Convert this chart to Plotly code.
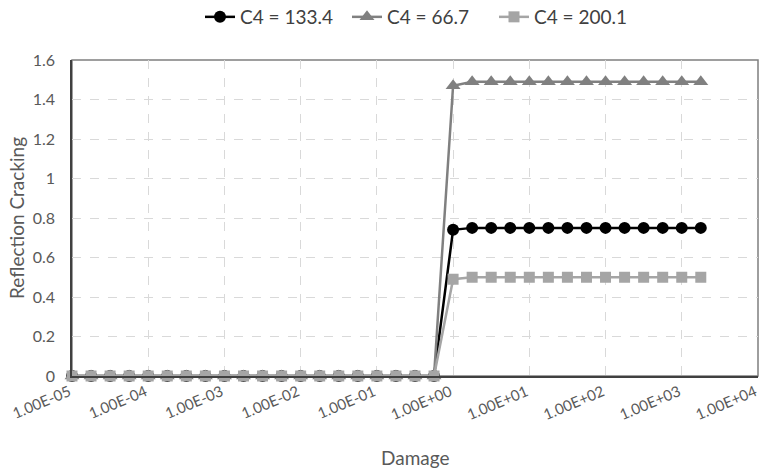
import plotly.graph_objects as go

damage = [1.00e-05, 1.778e-05, 3.162e-05, 5.623e-05,
          1.00e-04, 1.778e-04, 3.162e-04, 5.623e-04,
          1.00e-03, 1.778e-03, 3.162e-03, 5.623e-03,
          1.00e-02, 1.778e-02, 3.162e-02, 5.623e-02,
          1.00e-01, 1.778e-01, 3.162e-01, 5.623e-01,
          1.00, 1.778, 3.162, 5.623,
          10.0, 17.78, 31.62, 56.23,
          100.0, 177.8, 316.2, 562.3,
          1000.0, 1778.0]

c4_133 = [0, 0, 0, 0, 0, 0, 0, 0, 0, 0, 0, 0, 0, 0, 0, 0, 0, 0, 0, 0,
          0.74, 0.75, 0.75, 0.75, 0.75, 0.75, 0.75, 0.75, 0.75, 0.75, 0.75, 0.75, 0.75, 0.75]
c4_66 = [0, 0, 0, 0, 0, 0, 0, 0, 0, 0, 0, 0, 0, 0, 0, 0, 0, 0, 0, 0,
         1.47, 1.49, 1.49, 1.49, 1.49, 1.49, 1.49, 1.49, 1.49, 1.49, 1.49, 1.49, 1.49, 1.49]
c4_200 = [0, 0, 0, 0, 0, 0, 0, 0, 0, 0, 0, 0, 0, 0, 0, 0, 0, 0, 0, 0,
          0.49, 0.50, 0.50, 0.50, 0.50, 0.50, 0.50, 0.50, 0.50, 0.50, 0.50, 0.50, 0.50, 0.50]

x_tickvals = [1e-5, 1e-4, 1e-3, 1e-2, 1e-1, 1e0, 1e1, 1e2, 1e3, 1e4]
x_ticktext = ["1.00E-05", "1.00E-04", "1.00E-03", "1.00E-02", "1.00E-01",
              "1.00E+00", "1.00E+01", "1.00E+02", "1.00E+03", "1.00E+04"]

FONT = "Lato"
TXT = "#595959"

W, H = 762, 476
L, T, R, B = 72, 60, 4, 100
PW, PH = W - L - R, H - T - B

fig = go.Figure()
series = [
    ("C4 = 133.4", c4_133, "#000000", "circle", 12),
    ("C4 = 66.7", c4_66, "#808080", "triangle-up", 13),
    ("C4 = 200.1", c4_200, "#a5a5a5", "square", 11),
]
for name, ys, col, sym, sz in series:
    fig.add_trace(go.Scatter(
        x=damage, y=ys, name=name, mode="lines+markers",
        line=dict(color=col, width=2.5),
        marker=dict(color=col, symbol=sym, size=sz, line=dict(width=0)),
        cliponaxis=False,
    ))

# plot-area border (top/right)
fig.add_shape(type="rect", xref="paper", yref="paper", x0=0, y0=0, x1=1, y1=1,
              line=dict(color="#7f7f7f", width=1.5), layer="below")

fig.add_annotation(text="Damage", xref="paper", yref="paper", x=0.5,
                   y=-(457 - (T + PH)) / PH, yanchor="middle", showarrow=False,
                   font=dict(size=19, color=TXT))
fig.add_annotation(text="Reflection Cracking", xref="paper", yref="paper",
                   x=(16 - L) / PW, xanchor="center", y=0.5, yanchor="middle",
                   textangle=-90, showarrow=False, font=dict(size=19, color=TXT))

fig.update_layout(
    width=W, height=H,
    margin=dict(l=L, r=R, t=T, b=B, autoexpand=False),
    paper_bgcolor="white", plot_bgcolor="white",
    font=dict(family=FONT, color=TXT, size=14),
    showlegend=True,
    legend=dict(orientation="h", x=0.508, xanchor="center", y=1 - 17 / H, yanchor="middle",
                yref="container", font=dict(size=19, color="#404040"),
                itemwidth=30, tracegroupgap=0, entrywidth=102, entrywidthmode="pixels"),
)

fig.update_xaxes(
    type="log", range=[-5, 4.0005], automargin=False,
    tickvals=x_tickvals, ticktext=x_ticktext, tickangle=-23,
    ticklabeloverflow="allow", ticklabelshift=-3,
    showgrid=True, gridcolor="#d9d9d9", griddash="dash", gridwidth=1,
    showline=True, linecolor="#404040", linewidth=1.5,
    ticks="", tickfont=dict(size=15, color=TXT),
    zeroline=False,
)
fig.update_yaxes(
    range=[0, 1.6], dtick=0.2, tick0=0, automargin=False,
    showgrid=True, gridcolor="#d9d9d9", griddash="dash", gridwidth=1,
    showline=True, linecolor="#404040", linewidth=1.5,
    ticks="", tickfont=dict(size=16, color=TXT), ticklabelstandoff=12,
    zeroline=False,
)

fig.write_html("out.html", config={"displayModeBar": False},
               post_script="document.body.style.margin='0';")
